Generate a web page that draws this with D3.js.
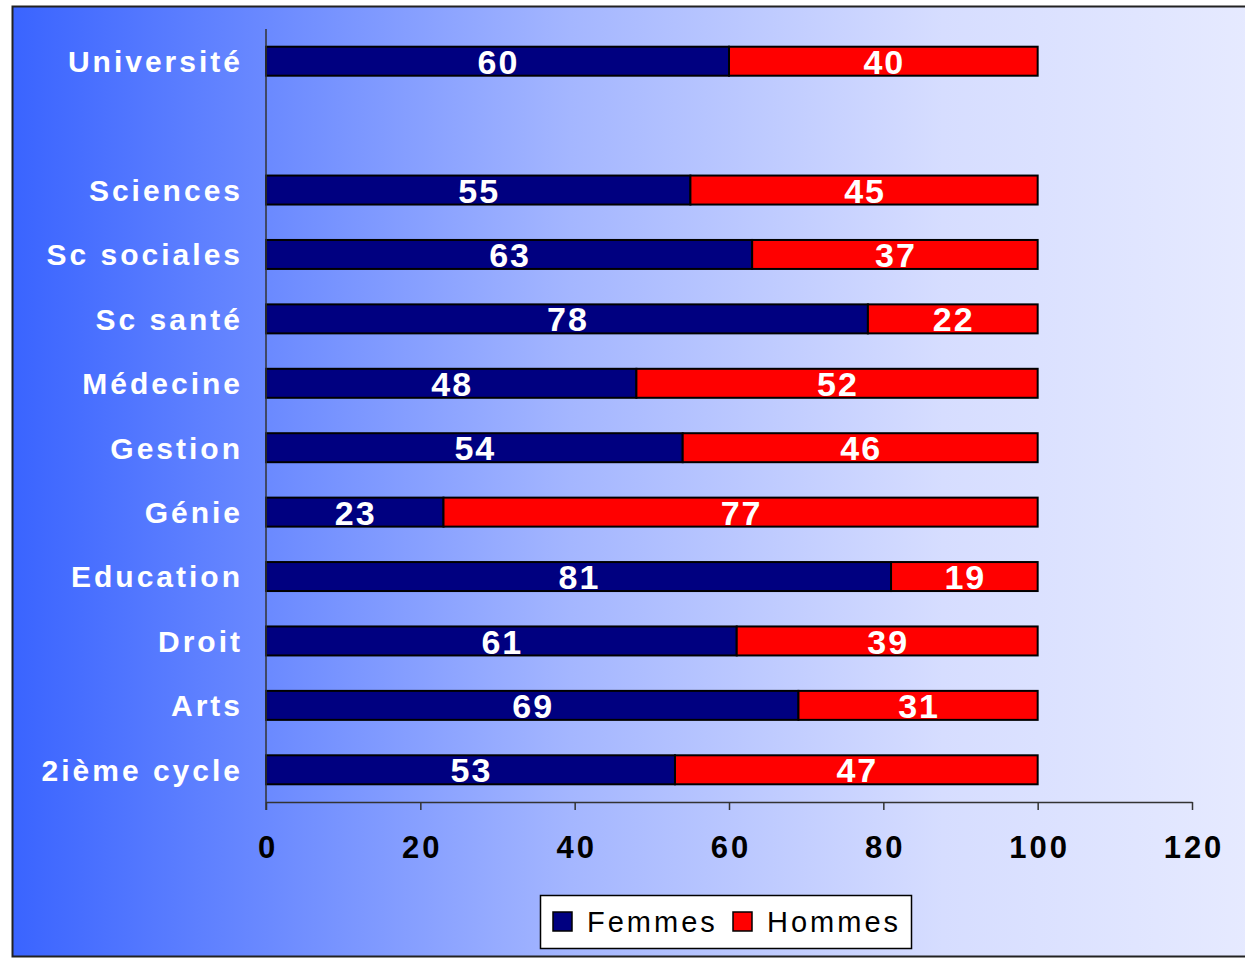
<!DOCTYPE html>
<html>
<head>
<meta charset="utf-8">
<script src="https://cdn.jsdelivr.net/npm/d3@7"></script>
<style>
  body { margin: 0; background: #fff; }
  svg text { font-family: "Liberation Sans", Arial, sans-serif; }
</style>
</head>
<body>
<div id="chart"></div>
<script>
// categories top to bottom, "gap" is the empty row under Université
var categories = ["Université", "gap", "Sciences", "Sc sociales", "Sc santé", "Médecine",
    "Gestion", "Génie", "Education", "Droit", "Arts", "2ième cycle"];
var femmes = [60, null, 55, 63, 78, 48, 54, 23, 81, 61, 69, 53];
var hommes = [40, null, 45, 37, 22, 52, 46, 77, 19, 39, 31, 47];
var xTicks = [0, 20, 40, 60, 80, 100, 120];
var seriesNames = ["Femmes", "Hommes"];
var seriesColors = ["#000080", "#ff0000"];

var W = 1245, H = 961;
var svg = d3.select("#chart").append("svg")
    .attr("width", W)
    .attr("height", H);

var defs = svg.append("defs");
var grad = defs.append("linearGradient").attr("id", "bg")
    .attr("x1", "0%").attr("x2", "100%").attr("y1", "0%").attr("y2", "0%");
grad.append("stop").attr("offset", "0%").attr("stop-color", "#3a64ff");
grad.append("stop").attr("offset", "45%").attr("stop-color", "#a4b6ff");
grad.append("stop").attr("offset", "75%").attr("stop-color", "#d6ddff");
grad.append("stop").attr("offset", "100%").attr("stop-color", "#e6eaff");

svg.append("rect")
    .attr("x", 12.5).attr("y", 6.5)
    .attr("width", 1240).attr("height", 950)
    .attr("fill", "url(#bg)")
    .attr("stroke", "#222").attr("stroke-width", 2);

var plotL = 266, plotR = 1192, plotT = 29, plotB = 802;

var x = d3.scaleLinear().domain([0, 120]).range([plotL, plotR]);
var y = d3.scaleBand().domain(categories).range([plotT, plotB]).paddingInner(0.55).paddingOuter(0.275);

var rows = categories.map(function(c, i) {
    return { cat: c, f: femmes[i], h: hommes[i] };
}).filter(function(d) { return d.f != null; });

var g = svg.append("g");

// femmes segments
g.selectAll(".bar-f")
    .data(rows)
    .enter().append("rect")
    .attr("class", "bar-f")
    .attr("x", x(0))
    .attr("y", function(d) { return y(d.cat); })
    .attr("width", function(d) { return x(d.f) - x(0); })
    .attr("height", y.bandwidth())
    .attr("fill", seriesColors[0])
    .attr("stroke", "#000").attr("stroke-width", 2);

// hommes segments
g.selectAll(".bar-h")
    .data(rows)
    .enter().append("rect")
    .attr("class", "bar-h")
    .attr("x", function(d) { return x(d.f); })
    .attr("y", function(d) { return y(d.cat); })
    .attr("width", function(d) { return x(d.f + d.h) - x(d.f); })
    .attr("height", y.bandwidth())
    .attr("fill", seriesColors[1])
    .attr("stroke", "#000").attr("stroke-width", 2);

// value labels
g.selectAll(".lbl-f")
    .data(rows)
    .enter().append("text")
    .attr("x", function(d) { return (x(0) + x(d.f)) / 2 + 1; })
    .attr("y", function(d) { return y(d.cat) + y.bandwidth() / 2; })
    .attr("dy", "0.37em")
    .attr("text-anchor", "middle")
    .attr("fill", "#fff").attr("font-weight", "bold").attr("font-size", 34)
    .attr("letter-spacing", 2)
    .text(function(d) { return d.f; });

g.selectAll(".lbl-h")
    .data(rows)
    .enter().append("text")
    .attr("x", function(d) { return (x(d.f) + x(d.f + d.h)) / 2 + 1; })
    .attr("y", function(d) { return y(d.cat) + y.bandwidth() / 2; })
    .attr("dy", "0.37em")
    .attr("text-anchor", "middle")
    .attr("fill", "#fff").attr("font-weight", "bold").attr("font-size", 34)
    .attr("letter-spacing", 2)
    .text(function(d) { return d.h; });

// category labels
g.selectAll(".cat")
    .data(rows)
    .enter().append("text")
    .attr("x", 243)
    .attr("y", function(d) { return y(d.cat) + y.bandwidth() / 2; })
    .attr("dy", "0.36em")
    .attr("text-anchor", "end")
    .attr("fill", "#fff").attr("font-weight", "bold").attr("font-size", 30)
    .attr("letter-spacing", 3)
    .text(function(d) { return d.cat; });

// y axis line
svg.append("line")
    .attr("x1", plotL).attr("x2", plotL)
    .attr("y1", plotT).attr("y2", plotB + 8)
    .attr("stroke", "#333").attr("stroke-width", 1.5);

// x axis
var xAxis = svg.append("g")
    .attr("transform", "translate(0," + plotB + ")")
    .call(d3.axisBottom(x).tickValues(xTicks).tickSize(8).tickSizeOuter(0).tickPadding(26));
xAxis.select(".domain").attr("stroke", "#333").attr("stroke-width", 1.5);
xAxis.selectAll(".tick line").attr("stroke", "#333").attr("stroke-width", 1.5);
xAxis.selectAll(".tick text")
    .attr("font-family", "Liberation Sans, Arial, sans-serif")
    .attr("font-size", 31).attr("font-weight", "bold").attr("fill", "#000")
    .attr("letter-spacing", 3)
    .attr("dx", 1.5);

// legend
var legend = svg.append("g").attr("transform", "translate(540,895)");
legend.append("rect")
    .attr("x", 0.5).attr("y", 0.5)
    .attr("width", 371).attr("height", 53)
    .attr("fill", "#fff").attr("stroke", "#000").attr("stroke-width", 1.5);
var legendX = [13, 193];
seriesNames.forEach(function(name, i) {
    legend.append("rect")
        .attr("x", legendX[i]).attr("y", 17)
        .attr("width", 19).attr("height", 19)
        .attr("fill", seriesColors[i])
        .attr("stroke", "#000").attr("stroke-width", 1.5);
    legend.append("text")
        .attr("x", legendX[i] + 34).attr("y", 27)
        .attr("dy", "0.36em")
        .attr("font-size", 29).attr("fill", "#000")
        .attr("letter-spacing", 3)
        .text(name);
});
</script>
</body>
</html>
